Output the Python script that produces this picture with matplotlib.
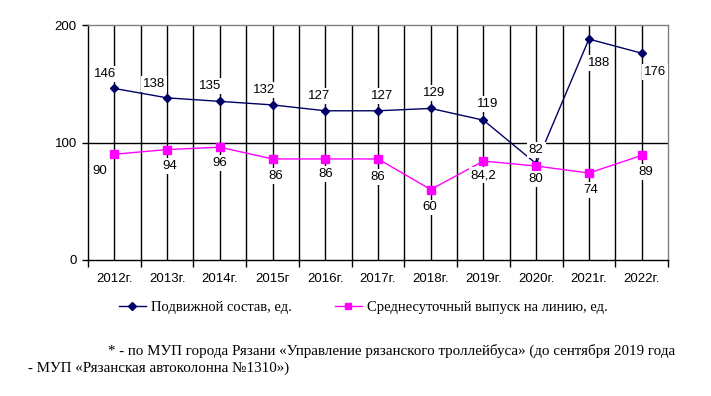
import matplotlib
matplotlib.use("Agg")
import matplotlib.pyplot as plt
from matplotlib.lines import Line2D
from matplotlib.ticker import FixedLocator

years = ["2012г.", "2013г.", "2014г.", "2015г", "2016г.", "2017г.", "2018г.",
         "2019г.", "2020г.", "2021г.", "2022г."]
rolling_stock = [146, 138, 135, 132, 127, 127, 129, 119, 82, 188, 176]
daily_output = [90, 94, 96, 86, 86, 86, 60, 84.2, 80, 74, 89]
rolling_labels = ["146", "138", "135", "132", "127", "127", "129", "119", "82", "188", "176"]
output_labels = ["90", "94", "96", "86", "86", "86", "60", "84,2", "80", "74", "89"]
series_names = ["Подвижной состав, ед.", "Среднесуточный выпуск на линию, ед."]
footnote1 = "* - по МУП города Рязани «Управление рязанского троллейбуса» (до сентября 2019 года"
footnote2 = "- МУП «Рязанская автоколонна №1310»)"

# label offsets in pixels (style)
blue_off = [(-9, 14), (-13, 14), (-10, 15), (-8, 15), (-6, 15), (4, 15), (3, 15),
            (4, 16), (0, 14), (10, -24), (13, -19)]
pink_off = [(-15, -17), (3, -16), (0, -16), (3, -17), (0, -15), (0, -18), (-1, -18),
            (0, -14), (0, -13), (2, -17), (4, -17)]

BLUE = "#000066"
PINK = "#ff00ff"
SANS = "Liberation Sans"
SERIF = "Liberation Serif"

fig = plt.figure(figsize=(7.11, 3.96), dpi=100)
ax = fig.add_axes([88/711, 1-260/396, 580/711, 235/396])
x = list(range(len(years)))

ax.set_xlim(-0.5, len(years) - 0.5)
ax.set_ylim(0, 200)

# grid lines
for xi in x:
    ax.axvline(xi, color="black", lw=1, zorder=1)
for b in range(len(years) - 1):
    ax.axvline(b + 0.5, color="black", lw=1, zorder=1)
ax.axhline(100, color="black", lw=1, zorder=1)

ax.plot(x, rolling_stock, color=BLUE, lw=1, marker="D", ms=4, zorder=3)
ax.plot(x, daily_output, color=PINK, lw=1, marker="s", ms=5.5, zorder=3)

for xi, v, lab, off in zip(x, rolling_stock, rolling_labels, blue_off):
    ax.annotate(lab, (xi, v), xytext=off, textcoords="offset pixels",
                ha="center", va="center", fontsize=9.5, family=SANS,
                bbox=dict(boxstyle="square,pad=0.15", fc="white", ec="none"), zorder=5)
for xi, v, lab, off in zip(x, daily_output, output_labels, pink_off):
    ax.annotate(lab, (xi, v), xytext=off, textcoords="offset pixels",
                ha="center", va="center", fontsize=9.5, family=SANS,
                bbox=dict(boxstyle="square,pad=0.15", fc="white", ec="none"), zorder=5)

ax.set_xticks(x)
ax.set_xticklabels(years, family=SANS, fontsize=9.5)
ax.xaxis.set_minor_locator(FixedLocator([i - 0.5 for i in range(len(years) + 1)]))
ax.tick_params(axis="x", which="major", length=0, pad=9)
ax.tick_params(axis="x", which="minor", length=5, width=1, color="black", direction="out")
ax.set_yticks([0, 100, 200])
ax.set_yticklabels(["0", "100", "200"], family=SANS, fontsize=9.5)
ax.tick_params(axis="y", length=4, width=1, direction="out", pad=4)

for s in ["left", "bottom"]:
    ax.spines[s].set_color("black")
    ax.spines[s].set_linewidth(1)
for s in ["top", "right"]:
    ax.spines[s].set_color("#808080")
    ax.spines[s].set_linewidth(1)

handles = [Line2D([], [], color=BLUE, lw=1, marker="D", ms=4),
           Line2D([], [], color=PINK, lw=1, marker="s", ms=5)]
fig.legend(handles, series_names, loc="center", bbox_to_anchor=(363/711, 1-307/396),
           ncol=2, frameon=False, prop={"family": SERIF, "size": 10.5},
           handlelength=1.9, handletextpad=0.3, columnspacing=2.95)

fig.text(108/711, 1-351/396, footnote1, family=SERIF, fontsize=10.8, va="center", ha="left")
fig.text(28/711, 1-368/396, footnote2, family=SERIF, fontsize=10.8, va="center", ha="left")

fig.savefig("out.png", dpi=100)
